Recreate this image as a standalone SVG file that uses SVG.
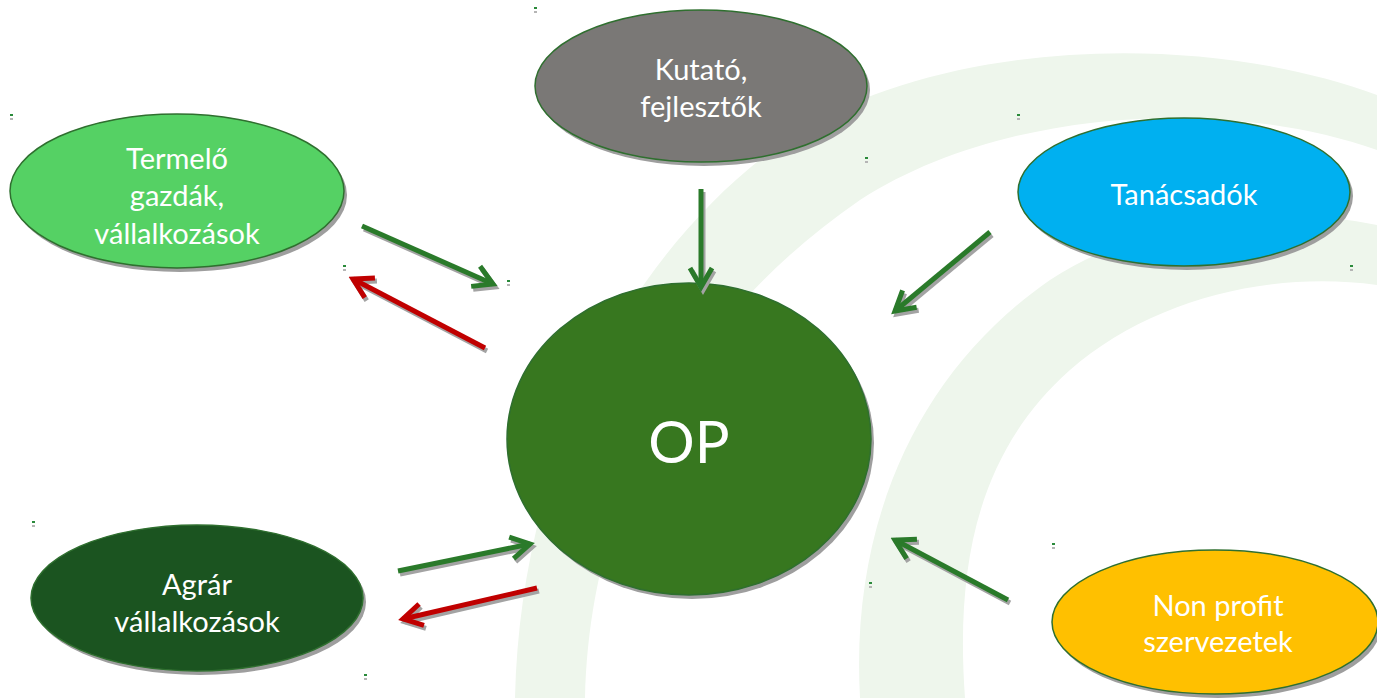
<svg xmlns="http://www.w3.org/2000/svg" width="1377" height="698" viewBox="0 0 1377 698">
<style>
.node-shadow{fill:#9e9e9e}
.node-shape{stroke:#2f6f2f;stroke-width:1.5}
.lbl{font-family:Lato,"Open Sans","Liberation Sans",sans-serif;fill:#ffffff;text-anchor:middle;dominant-baseline:central}
.s{font-size:29px}
.big{font-size:58px}
.arr{fill:none;stroke-width:5;stroke-linecap:butt}
.g{stroke:#2a7a2a}
.r{stroke:#c00000}
.sh{stroke:#a3a3a3}
.band{fill:#eef6ec}
.mk-g{fill:#2a8a3a}
.mk-s{fill:#b5b5b5}
</style>
<defs>
<marker id="hg" markerUnits="userSpaceOnUse" viewBox="-25 -15 30 30" refX="0" refY="0" markerWidth="30" markerHeight="30" orient="auto">
<path d="M -19 -11 L 0 0 L -19 11" fill="none" stroke="#2a7a2a" stroke-width="5"/>
</marker>
<marker id="hr" markerUnits="userSpaceOnUse" viewBox="-25 -15 30 30" refX="0" refY="0" markerWidth="30" markerHeight="30" orient="auto">
<path d="M -19 -11 L 0 0 L -19 11" fill="none" stroke="#c00000" stroke-width="5"/>
</marker>
<marker id="hs" markerUnits="userSpaceOnUse" viewBox="-25 -15 30 30" refX="0" refY="0" markerWidth="30" markerHeight="30" orient="auto">
<path d="M -19 -11 L 0 0 L -19 11" fill="none" stroke="#a3a3a3" stroke-width="5"/>
</marker>
</defs>
<rect width="1377" height="698" fill="#ffffff"/>
<g id="background">
<path class="band" d="M 515 698 C 520 470 620 250 800 130 C 950 40 1200 30 1377 95 L 1377 150 C 1220 95 1000 110 860 200 C 700 310 590 480 585 698 Z"/>
<path class="band" d="M 860 698 C 850 520 920 370 1050 280 C 1150 215 1280 205 1377 225 L 1377 285 C 1270 270 1150 300 1070 370 C 980 450 955 560 965 698 Z"/>
</g>
<g id="marks">
<rect class="mk-g" x="534" y="7" width="3" height="2"/><rect class="mk-s" x="534" y="11" width="3" height="2"/>
<rect class="mk-g" x="10" y="114" width="3" height="2"/><rect class="mk-s" x="10" y="118" width="3" height="2"/>
<rect class="mk-g" x="1017" y="114" width="3" height="2"/><rect class="mk-s" x="1017" y="118" width="3" height="2"/>
<rect class="mk-g" x="865" y="157" width="3" height="2"/><rect class="mk-s" x="865" y="161" width="3" height="2"/>
<rect class="mk-g" x="343" y="265" width="3" height="2"/><rect class="mk-s" x="343" y="269" width="3" height="2"/>
<rect class="mk-g" x="507" y="280" width="3" height="2"/><rect class="mk-s" x="507" y="284" width="3" height="2"/>
<rect class="mk-g" x="1350" y="265" width="3" height="2"/><rect class="mk-s" x="1350" y="269" width="3" height="2"/>
<rect class="mk-g" x="32" y="521" width="3" height="2"/><rect class="mk-s" x="32" y="525" width="3" height="2"/>
<rect class="mk-g" x="1052" y="543" width="3" height="2"/><rect class="mk-s" x="1052" y="547" width="3" height="2"/>
<rect class="mk-g" x="869" y="582" width="3" height="2"/><rect class="mk-s" x="869" y="586" width="3" height="2"/>
<rect class="mk-g" x="364" y="674" width="3" height="2"/><rect class="mk-s" x="364" y="678" width="3" height="2"/>
</g>
<g id="node-termelo">
<ellipse class="node-shadow" cx="180" cy="195" rx="167" ry="77"/>
<ellipse class="node-shape" cx="177" cy="191" rx="167" ry="77" fill="#55d164"/>
<text class="lbl s" x="177" y="157">Termelő</text>
<text class="lbl s" x="177" y="194">gazdák,</text>
<text class="lbl s" x="177" y="232">vállalkozások</text>
</g>
<g id="node-kutato">
<ellipse class="node-shadow" cx="704" cy="90" rx="166" ry="76"/>
<ellipse class="node-shape" cx="701" cy="86" rx="166" ry="76" fill="#7a7876"/>
<text class="lbl s" x="701" y="68">Kutató,</text>
<text class="lbl s" x="701" y="105">fejlesztők</text>
</g>
<g id="node-tanacsadok">
<ellipse class="node-shadow" cx="1187" cy="196" rx="166" ry="74"/>
<ellipse class="node-shape" cx="1184" cy="192" rx="166" ry="74" fill="#00b0f0"/>
<text class="lbl s" x="1184" y="193">Tanácsadók</text>
</g>
<g id="node-op">
<ellipse class="node-shadow" cx="692" cy="443" rx="182" ry="156"/>
<ellipse class="node-shape" cx="689" cy="439" rx="182" ry="156" fill="#37771f"/>
<text class="lbl big" x="689" y="440">OP</text>
</g>
<g id="node-agrar">
<ellipse class="node-shadow" cx="200" cy="602" rx="166" ry="73"/>
<ellipse class="node-shape" cx="197" cy="598" rx="166" ry="73" fill="#1b5420"/>
<text class="lbl s" x="197" y="583">Agrár</text>
<text class="lbl s" x="197" y="620">vállalkozások</text>
</g>
<g id="node-nonprofit">
<ellipse class="node-shadow" cx="1218" cy="626" rx="163" ry="72"/>
<ellipse class="node-shape" cx="1215" cy="622" rx="163" ry="72" fill="#ffc000"/>
<text class="lbl s" x="1218" y="604">Non profit</text>
<text class="lbl s" x="1218" y="640">szervezetek</text>
</g>
<g id="connectors">
<g transform="translate(2,3)">
<line class="arr sh" x1="362" y1="226" x2="493" y2="284" marker-end="url(#hs)"/>
<line class="arr sh" x1="485" y1="348" x2="353" y2="279" marker-end="url(#hs)"/>
<line class="arr sh" x1="701" y1="189" x2="701" y2="287" marker-end="url(#hs)"/>
<line class="arr sh" x1="990" y1="232" x2="895" y2="311" marker-end="url(#hs)"/>
<line class="arr sh" x1="398" y1="571" x2="530" y2="544" marker-end="url(#hs)"/>
<line class="arr sh" x1="537" y1="588" x2="403" y2="619" marker-end="url(#hs)"/>
<line class="arr sh" x1="1008" y1="600" x2="895" y2="540" marker-end="url(#hs)"/>
</g>
<line class="arr g" x1="362" y1="226" x2="493" y2="284" marker-end="url(#hg)"/>
<line class="arr r" x1="485" y1="348" x2="353" y2="279" marker-end="url(#hr)"/>
<line class="arr g" x1="701" y1="189" x2="701" y2="287" marker-end="url(#hg)"/>
<line class="arr g" x1="990" y1="232" x2="895" y2="311" marker-end="url(#hg)"/>
<line class="arr g" x1="398" y1="571" x2="530" y2="544" marker-end="url(#hg)"/>
<line class="arr r" x1="537" y1="588" x2="403" y2="619" marker-end="url(#hr)"/>
<line class="arr g" x1="1008" y1="600" x2="895" y2="540" marker-end="url(#hg)"/>
</g>
</svg>
